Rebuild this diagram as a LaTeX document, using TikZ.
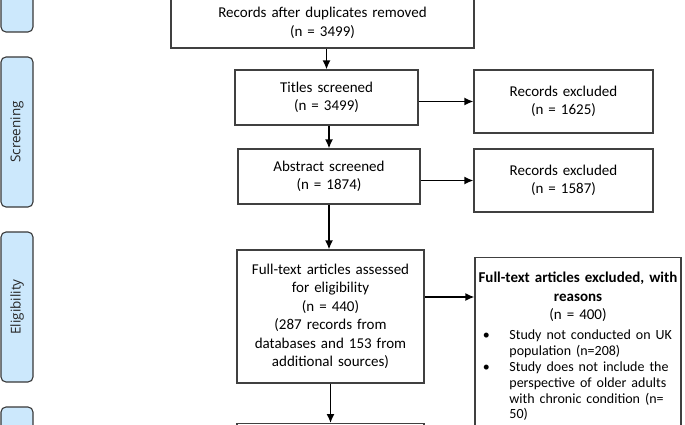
\documentclass[tikz,border=0pt]{standalone}
\usepackage{fontspec}
\setmainfont{Carlito}
\newfontfamily\phasefont{Open Sans}
\usepackage{enumitem}
\usetikzlibrary{arrows.meta,positioning}

\begin{document}
\begin{tikzpicture}[x=1pt,y=1pt,
    box/.style={draw=boxline,line width=1.2pt,align=center,inner sep=3pt,
      font=\fontsize{15}{18.5}\selectfont},
    phase/.style={draw=barline,fill=barfill,line width=1.1pt,rounded corners=5pt,
      minimum height=32pt,rotate=90,text=black!85,
      font=\phasefont\fontsize{13.5}{15}\selectfont},
    arr/.style={-{Latex[length=9pt,width=8pt]},line width=1.5pt}]
    \definecolor{barfill}{rgb}{0.8, 0.91, 0.99}
    \definecolor{barline}{rgb}{0.22, 0.22, 0.22}
    \definecolor{boxline}{rgb}{0.25, 0.25, 0.25}
    \useasboundingbox (0,0) rectangle (685,-425);

    % phase bars on the left
    \node[phase,minimum width=52pt] (ident) at (17,-6) {};
    \node[phase,minimum width=150pt] (screen) at (17,-132) {Screening};
    \node[phase,minimum width=150pt] (elig) at (17,-307) {Eligibility};
    \node[phase,minimum width=53pt] (incl) at (17,-433.5) {};

    % boxes
    \node[box,text width=297pt,minimum height=50pt] (dup) at (322.5,-23)
      {Records after duplicates removed\\(n = 3499)};
    \node[box,text width=177pt,minimum height=55pt] (titles) at (326.5,-97.5)
      {Titles screened\\(n = 3499)};
    \node[box,text width=173pt,minimum height=63pt] (excl1) at (563.5,-101.5)
      {Records excluded\\(n = 1625)};
    \node[box,text width=176pt,minimum height=55pt] (abs) at (329,-176.5)
      {Abstract screened\\(n = 1874)};
    \node[box,text width=173pt,minimum height=63pt] (excl2) at (563.5,-180.5)
      {Records excluded\\(n = 1587)};
    \node[box,text width=181pt,minimum height=133pt] (full) at (330.5,-316.5)
      {Full-text articles assessed\\for eligibility\\(n = 440)\\(287 records from\\databases and 153 from\\additional sources)};
    \node[box,text width=200pt,align=left,anchor=north] (excl3) at (578,-257)
      {{\centering\bfseries\rule{0pt}{22pt}Full-text articles excluded, with\\reasons\par}
       {\centering (n = 400)\par}
       \fontsize{14}{15.8}\selectfont
       \begin{itemize}[leftmargin=31.4pt,labelsep=19.5pt,itemindent=0pt,
         topsep=4.5pt,partopsep=0pt,parsep=0pt,itemsep=0pt,label=\textbullet]
       \item Study not conducted on UK\\population (n=208)
       \item Study does not include the\\perspective of older adults\\with chronic condition (n=\\50)
       \end{itemize}
       \vspace{20pt}};
    \node[box,text width=181pt,minimum height=40pt,anchor=north] (incbox) at (330.5,-423) {};

    % connectors
    \draw[arr] (dup.south -| titles) -- (titles.north);
    \draw[arr] (titles.east |- excl1) -- (excl1.west);
    \draw[arr] (titles.south -| abs) -- (abs.north);
    \draw[arr] (abs.east |- excl2) -- (excl2.west);
    \draw[arr] (abs.south) -- (abs.south |- full.north);
    \draw[arr] ([yshift=19.5pt]full.east) -- ([yshift=19.5pt]full.east -| excl3.west);
    \draw[arr] (full.south) -- (incbox.north);
\end{tikzpicture}
\end{document}
